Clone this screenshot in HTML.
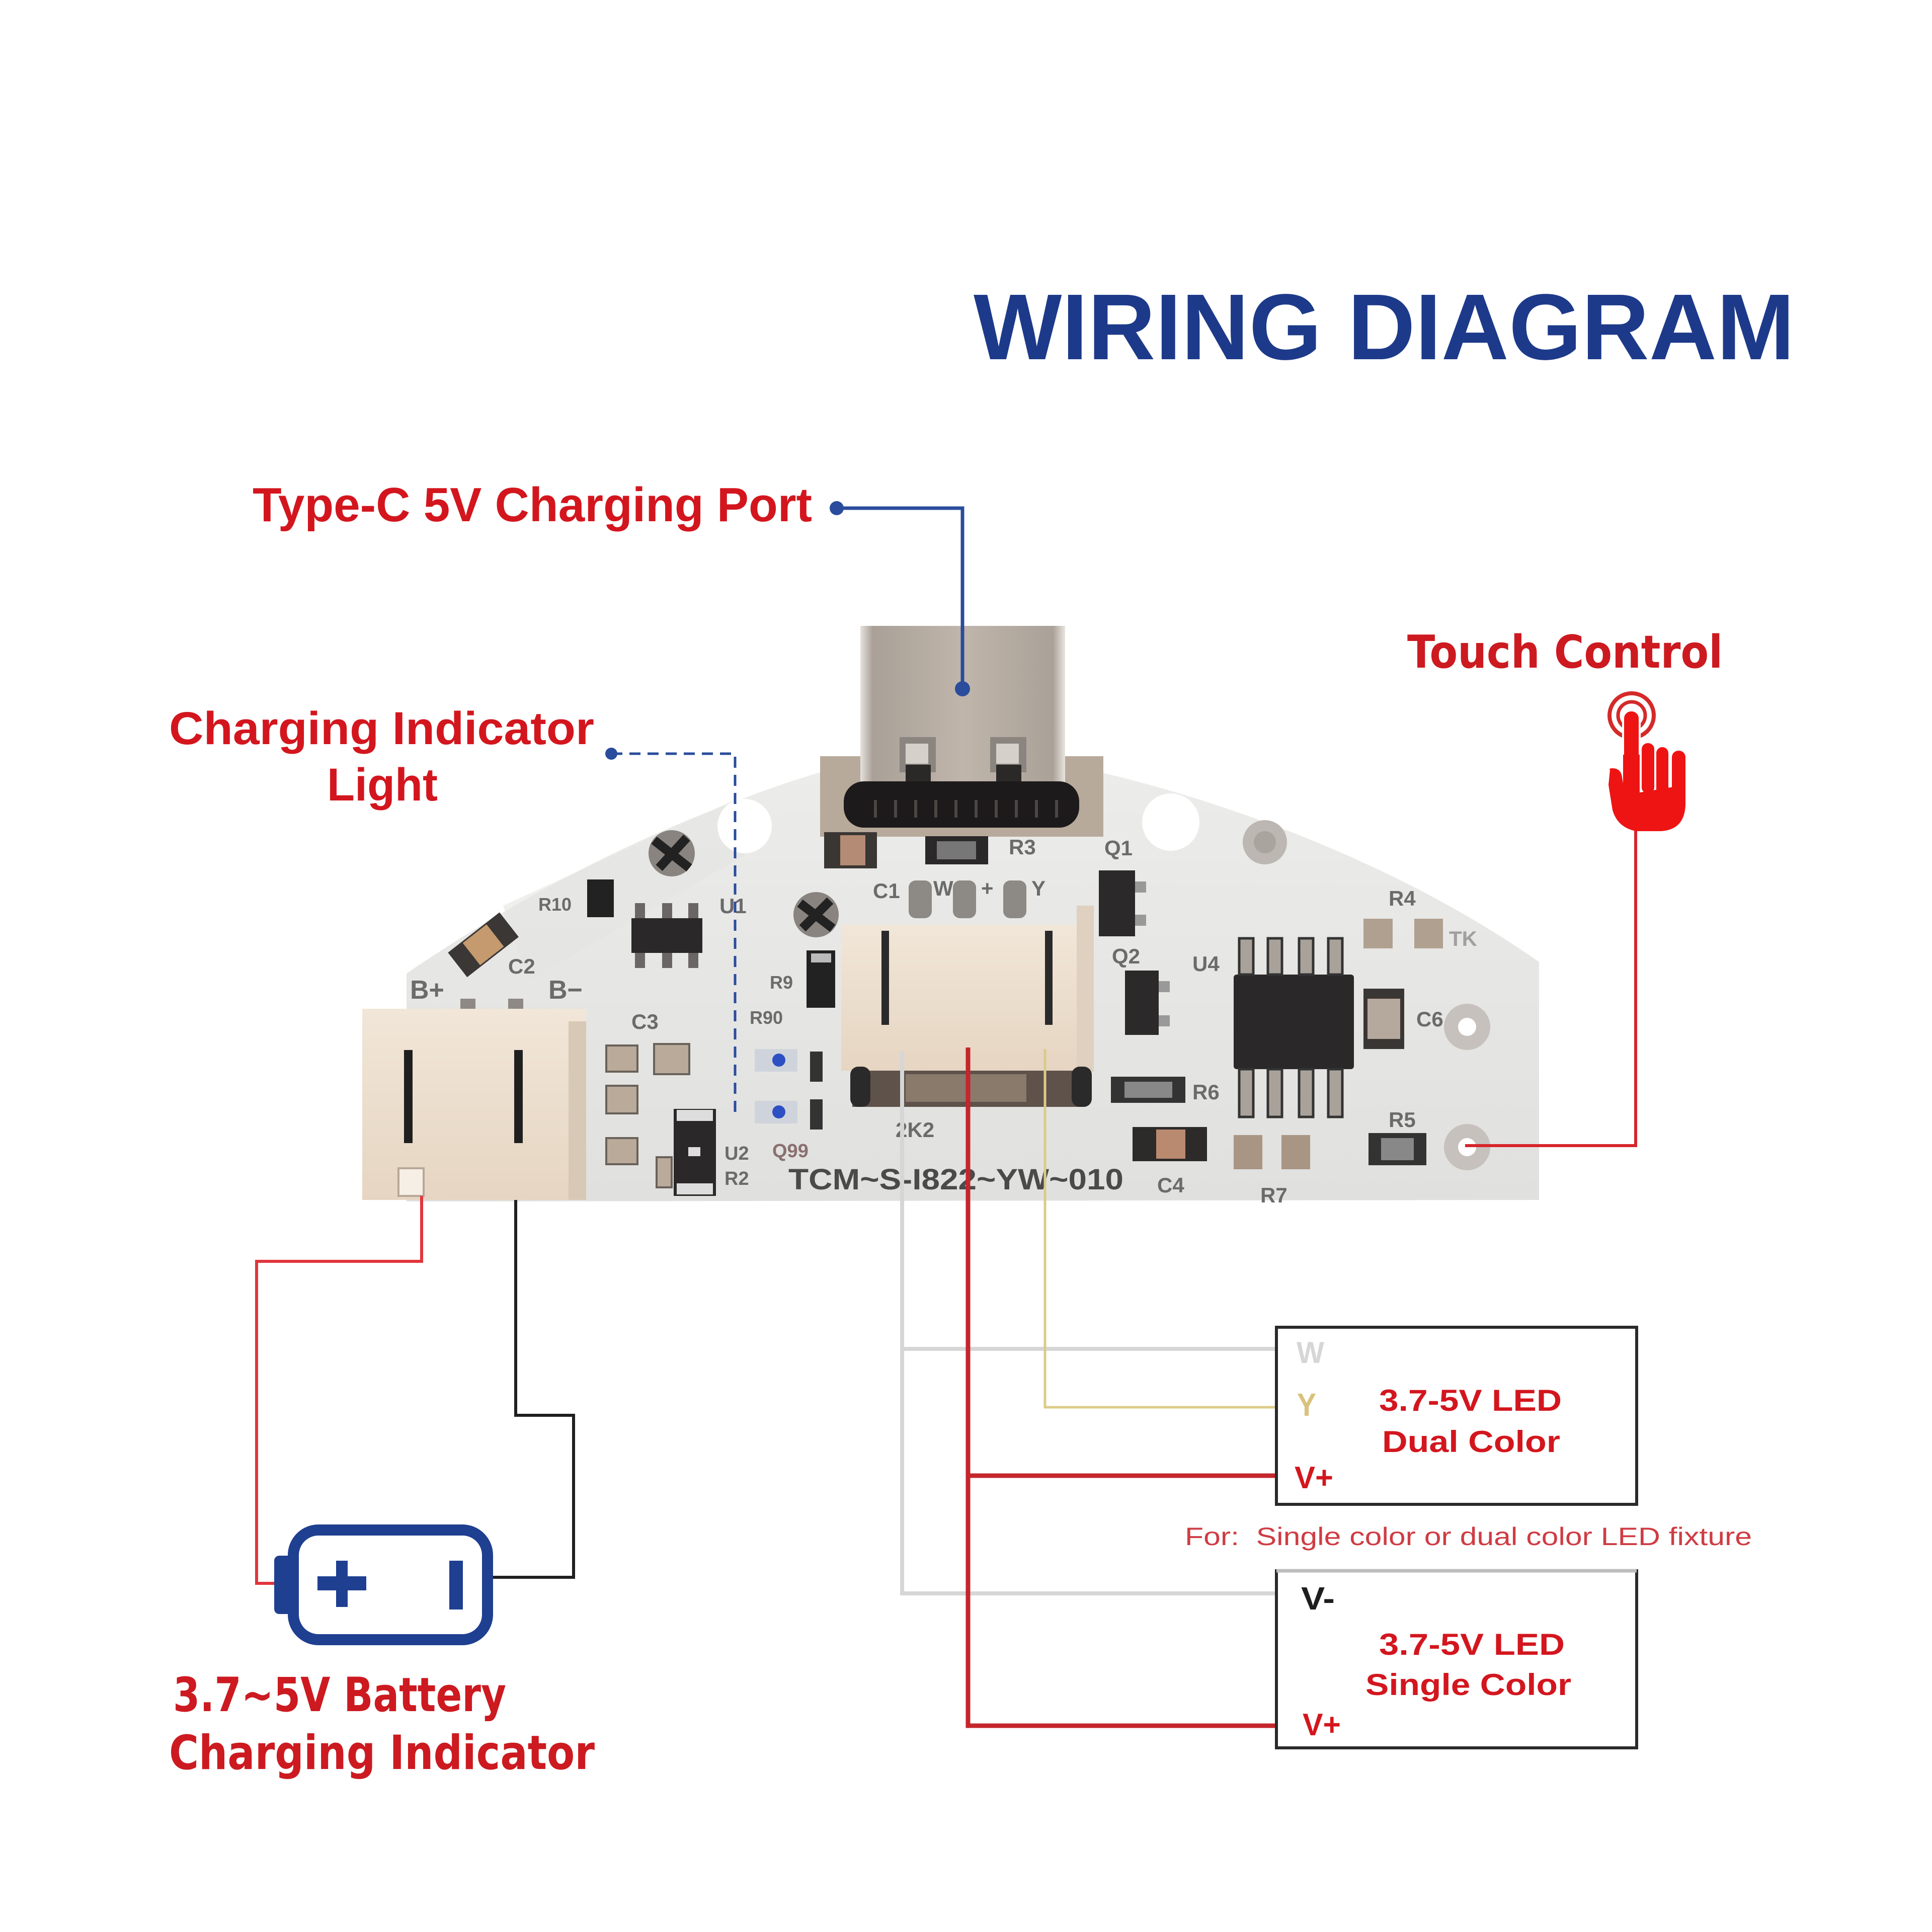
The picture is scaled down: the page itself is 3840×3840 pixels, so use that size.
<!DOCTYPE html>
<html><head><meta charset="utf-8"><style>html,body{margin:0;padding:0;background:#fff}svg{display:block}</style></head>
<body>
<svg width="3840" height="3840" viewBox="0 0 3840 3840" xmlns="http://www.w3.org/2000/svg">
<defs>
<linearGradient id="board" x1="0" y1="0" x2="0" y2="1">
<stop offset="0" stop-color="#ececea"/><stop offset="1" stop-color="#e0e0de"/>
</linearGradient>
<linearGradient id="shell" x1="0" y1="0" x2="1" y2="0">
<stop offset="0" stop-color="#e6e2dd"/><stop offset="0.06" stop-color="#a9a097"/><stop offset="0.5" stop-color="#bfb5ab"/><stop offset="0.94" stop-color="#aaa198"/><stop offset="1" stop-color="#e8e4df"/>
</linearGradient>
<linearGradient id="conn" x1="0" y1="0" x2="0" y2="1">
<stop offset="0" stop-color="#f1e6d8"/><stop offset="1" stop-color="#e6d5c2"/>
</linearGradient>
</defs>
<rect width="3840" height="3840" fill="#fff"/>

<!-- Title -->
<text x="1935" y="714" font-family="Liberation Sans, Arial, sans-serif" font-weight="bold" font-size="186" fill="#1d3a8a" textLength="1632" lengthAdjust="spacingAndGlyphs">WIRING DIAGRAM</text>

<!-- Labels -->
<g font-family="Liberation Sans, Arial, sans-serif" font-weight="bold" fill="#d3161e">
<text x="502" y="1036" font-size="96" textLength="1112" lengthAdjust="spacingAndGlyphs">Type-C 5V Charging Port</text>
<text x="336" y="1479" font-size="92" textLength="845" lengthAdjust="spacingAndGlyphs">Charging Indicator</text>
<text x="650" y="1591" font-size="92" textLength="220" lengthAdjust="spacingAndGlyphs">Light</text>
</g>
<g font-family="DejaVu Sans, Verdana, sans-serif" font-weight="bold" fill="#cc1a20">
<text x="2797" y="1327" font-size="90" textLength="627" lengthAdjust="spacingAndGlyphs">Touch Control</text>
<text x="344" y="3401" font-size="94" textLength="662" lengthAdjust="spacingAndGlyphs">3.7~5V Battery</text>
<text x="336" y="3516" font-size="94" textLength="846" lengthAdjust="spacingAndGlyphs">Charging Indicator</text>
</g>

<!-- PCB board -->
<path d="M808 2388 L808 1935 C 1020 1790, 1250 1670, 1470 1590 C 1560 1555, 1640 1530, 1715 1513 L2130 1522 C 2450 1590, 2800 1730, 3059 1912 L3059 2385 Z" fill="url(#board)"/>
<!-- faint watermark shade -->
<path d="M1000 1800 L1460 1590 L1480 1700 L1050 1950 Z" fill="#e4e4e2" opacity="0.6"/>

<!-- Type-C area -->
<rect x="1630" y="1503" width="563" height="160" fill="#b8aa9b"/>
<rect x="1710" y="1244" width="407" height="335" fill="url(#shell)"/>
<rect x="1788" y="1465" width="72" height="70" fill="#8b8580"/>
<rect x="1968" y="1465" width="72" height="70" fill="#8b8580"/>
<rect x="1800" y="1478" width="45" height="40" fill="#d6d0ca"/>
<rect x="1980" y="1478" width="45" height="40" fill="#d6d0ca"/>
<rect x="1800" y="1520" width="50" height="50" fill="#2b2927"/>
<rect x="1980" y="1520" width="50" height="50" fill="#2b2927"/>
<rect x="1677" y="1553" width="468" height="92" rx="40" fill="#1c1a1a"/>
<g stroke="#4a4644" stroke-width="6">
<line x1="1740" y1="1590" x2="1740" y2="1625"/><line x1="1780" y1="1590" x2="1780" y2="1625"/><line x1="1820" y1="1590" x2="1820" y2="1625"/><line x1="1860" y1="1590" x2="1860" y2="1625"/><line x1="1900" y1="1590" x2="1900" y2="1625"/><line x1="1940" y1="1590" x2="1940" y2="1625"/><line x1="1980" y1="1590" x2="1980" y2="1625"/><line x1="2020" y1="1590" x2="2020" y2="1625"/><line x1="2060" y1="1590" x2="2060" y2="1625"/><line x1="2100" y1="1590" x2="2100" y2="1625"/>
</g>

<!-- holes / pads -->
<circle cx="1480" cy="1642" r="54" fill="#fff"/>
<circle cx="2327" cy="1634" r="57" fill="#fff"/>
<circle cx="2514" cy="1674" r="44" fill="#bcb7b2"/>
<circle cx="2514" cy="1674" r="22" fill="#aaa49e"/>
<circle cx="2916" cy="2041" r="46" fill="#c6c1bc"/>
<circle cx="2916" cy="2041" r="18" fill="#fff"/>
<circle cx="2916" cy="2280" r="46" fill="#c6c1bc"/>
<circle cx="2916" cy="2280" r="18" fill="#fff"/>

<!-- round components -->
<circle cx="1335" cy="1696" r="46" fill="#8a8480"/>
<path d="M1300 1670 L1370 1725 M1310 1725 L1365 1665" stroke="#222" stroke-width="18"/>
<circle cx="1622" cy="1818" r="45" fill="#8a8480"/>
<path d="M1590 1795 L1655 1845 M1595 1845 L1650 1790" stroke="#222" stroke-width="18"/>

<!-- small parts under Type-C -->
<rect x="1638" y="1654" width="105" height="72" fill="#3a3634"/>
<rect x="1670" y="1660" width="50" height="60" fill="#b48b74"/>
<rect x="1839" y="1662" width="125" height="56" fill="#2a2828"/>
<rect x="1862" y="1672" width="78" height="36" fill="#777"/>
<rect x="1806" y="1750" width="46" height="75" rx="14" fill="#8d8985"/>
<rect x="1894" y="1750" width="46" height="75" rx="14" fill="#8d8985"/>
<rect x="1994" y="1750" width="46" height="75" rx="14" fill="#8d8985"/>

<!-- left side parts -->
<g transform="rotate(-38 960 1877)"><rect x="895" y="1847" width="130" height="62" fill="#3b3735"/><rect x="930" y="1850" width="60" height="56" fill="#c49a6e"/></g>
<rect x="1167" y="1748" width="53" height="75" fill="#222"/>
<rect x="1255" y="1825" width="141" height="69" fill="#2a2828"/>
<g fill="#6a6663"><rect x="1262" y="1795" width="20" height="30"/><rect x="1316" y="1795" width="20" height="30"/><rect x="1368" y="1795" width="20" height="30"/><rect x="1262" y="1894" width="20" height="30"/><rect x="1316" y="1894" width="20" height="30"/><rect x="1368" y="1894" width="20" height="30"/></g>
<g fill="#8e8985"><rect x="915" y="1985" width="30" height="65"/><rect x="1010" y="1985" width="30" height="65"/><rect x="1070" y="2010" width="30" height="45"/></g>
<g fill="#b9aa99" stroke="#6a625a" stroke-width="4">
<rect x="1205" y="2078" width="62" height="52"/><rect x="1300" y="2075" width="70" height="60"/><rect x="1205" y="2158" width="62" height="55"/><rect x="1205" y="2262" width="62" height="52"/><rect x="1305" y="2300" width="30" height="60"/>
</g>
<rect x="1339" y="2204" width="84" height="173" fill="#2a2828"/>
<rect x="1345" y="2206" width="72" height="22" fill="#ddd"/>
<rect x="1345" y="2352" width="72" height="22" fill="#ddd"/>
<rect x="1368" y="2280" width="24" height="18" fill="#ddd"/>
<rect x="1603" y="1889" width="57" height="114" fill="#222"/>
<rect x="1612" y="1895" width="40" height="18" fill="#bbb"/>
<rect x="1500" y="2085" width="85" height="45" fill="#cfd4dc"/>
<circle cx="1548" cy="2107" r="13" fill="#2d4fc4"/>
<rect x="1500" y="2188" width="85" height="45" fill="#cfd4dc"/>
<circle cx="1548" cy="2210" r="13" fill="#2d4fc4"/>
<rect x="1610" y="2090" width="25" height="60" fill="#333"/>
<rect x="1610" y="2185" width="25" height="60" fill="#333"/>

<!-- left connector -->
<rect x="720" y="2005" width="445" height="380" fill="url(#conn)"/>
<rect x="1130" y="2030" width="35" height="355" fill="#d8c8b6"/>
<rect x="803" y="2087" width="17" height="185" fill="#1f1f1f"/>
<rect x="1022" y="2087" width="17" height="185" fill="#1f1f1f"/>
<rect x="792" y="2322" width="50" height="55" fill="#f6efe6" stroke="#b8a898" stroke-width="4"/>

<!-- middle connector -->
<rect x="1672" y="1838" width="502" height="290" fill="url(#conn)"/>
<rect x="2140" y="1800" width="34" height="330" fill="#dfd0bf"/>
<rect x="1752" y="1850" width="15" height="187" fill="#2a2a2a"/>
<rect x="2077" y="1850" width="15" height="187" fill="#2a2a2a"/>
<rect x="1694" y="2128" width="460" height="72" fill="#5e524a"/>
<rect x="1800" y="2135" width="240" height="55" fill="#8a7a6c"/>
<rect x="1690" y="2120" width="40" height="80" rx="16" fill="#2b2a2a"/>
<rect x="2130" y="2120" width="40" height="80" rx="16" fill="#2b2a2a"/>

<!-- right side parts -->
<rect x="2184" y="1730" width="72" height="131" fill="#2b2929"/>
<rect x="2256" y="1752" width="22" height="22" fill="#999"/><rect x="2256" y="1818" width="22" height="22" fill="#999"/>
<rect x="2236" y="1929" width="67" height="128" fill="#2b2929"/>
<rect x="2303" y="1950" width="22" height="22" fill="#999"/><rect x="2303" y="2018" width="22" height="22" fill="#999"/>
<rect x="2452" y="1937" width="239" height="188" rx="6" fill="#2a2828"/>
<g fill="#a9a29b" stroke="#333" stroke-width="5">
<rect x="2463" y="1865" width="28" height="72"/><rect x="2520" y="1865" width="28" height="72"/><rect x="2582" y="1865" width="28" height="72"/><rect x="2640" y="1865" width="28" height="72"/>
<rect x="2463" y="2125" width="28" height="95"/><rect x="2520" y="2125" width="28" height="95"/><rect x="2582" y="2125" width="28" height="95"/><rect x="2640" y="2125" width="28" height="95"/>
</g>
<rect x="2251" y="2240" width="148" height="68" fill="#2d2b2a"/>
<rect x="2298" y="2245" width="58" height="58" fill="#b98a70"/>
<rect x="2208" y="2140" width="148" height="52" fill="#333"/>
<rect x="2235" y="2150" width="95" height="32" fill="#888"/>
<rect x="2452" y="2256" width="57" height="68" fill="#a89584"/>
<rect x="2547" y="2256" width="57" height="68" fill="#a89584"/>
<rect x="2720" y="2252" width="115" height="64" fill="#333"/>
<rect x="2745" y="2262" width="65" height="44" fill="#888"/>
<rect x="2710" y="1965" width="81" height="120" fill="#3a3634"/>
<rect x="2718" y="1985" width="65" height="80" fill="#b5a89c"/>
<rect x="2710" y="1826" width="58" height="59" fill="#b0a090"/>
<rect x="2811" y="1826" width="57" height="59" fill="#b0a090"/>

<!-- PCB silkscreen text -->
<g font-family="Liberation Sans, Arial, sans-serif" font-weight="bold" fill="#6b6b6b" font-size="42">
<text x="1567" y="2364" font-size="58" fill="#4a4a4a" textLength="666" lengthAdjust="spacingAndGlyphs">TCM~S-I822~YW~010</text>
<text x="2195" y="1700">Q1</text><text x="2210" y="1915">Q2</text><text x="2370" y="1930">U4</text>
<text x="2005" y="1698">R3</text><text x="1735" y="1785">C1</text><text x="1855" y="1780">W</text><text x="1950" y="1780">+</text><text x="2050" y="1780">Y</text>
<text x="2370" y="2185">R6</text><text x="2300" y="2370">C4</text><text x="2505" y="2390">R7</text><text x="2760" y="2240">R5</text>
<text x="2815" y="2040">C6</text><text x="2760" y="1800">R4</text><text x="2880" y="1880" fill="#a0a0a0">TK</text>
<text x="1780" y="2260">2K2</text>
<text x="815" y="1985" font-size="52">B+</text><text x="1090" y="1985" font-size="52">B−</text><text x="1010" y="1935">C2</text>
<text x="1255" y="2045">C3</text><text x="1070" y="1810" font-size="36">R10</text><text x="1430" y="1815">U1</text>
<text x="1530" y="1965" font-size="36">R9</text><text x="1490" y="2035" font-size="36">R90</text>
<text x="1440" y="2305" font-size="38">U2</text><text x="1440" y="2355" font-size="38">R2</text><text x="1535" y="2300" font-size="38" fill="#8a7070">Q99</text>
</g>

<!-- Wires to LED boxes -->
<g fill="none" stroke-linejoin="miter">
<path d="M1793 2090 V3167 H2537" stroke="#d6d6d6" stroke-width="8"/>
<path d="M1793 2681 H2537" stroke="#d6d6d6" stroke-width="8"/>
<path d="M2077 2085 V2797 H2537" stroke="#dccb88" stroke-width="5"/>
<path d="M1924 2082 V3430 H2537" stroke="#c4262c" stroke-width="9"/>
<path d="M1924 2933 H2537" stroke="#c4262c" stroke-width="9"/>
<!-- battery wires -->
<path d="M838 2377 V2507 H510 V3147 H550" stroke="#e2353b" stroke-width="6"/>
<path d="M1025 2385 V2813 H1140 V3135 H980" stroke="#1f1f1f" stroke-width="6"/>
<!-- touch wire -->
<path d="M3251 1645 V2277 H2912" stroke="#d6242a" stroke-width="6"/>
<!-- Type-C pointer -->
<path d="M1663 1010 H1913 V1369" stroke="#2a4c9c" stroke-width="7"/>
<!-- Indicator dashed pointer -->
<path d="M1215 1498 H1461 V2212" stroke="#2a4c9c" stroke-width="5" stroke-dasharray="22 14"/>
</g>
<circle cx="1663" cy="1010" r="14" fill="#2a4c9c"/>
<circle cx="1913" cy="1369" r="15" fill="#2a4c9c"/>
<circle cx="1215" cy="1498" r="12" fill="#2a4c9c"/>

<!-- LED boxes -->
<rect x="2537" y="2638" width="716" height="352" fill="none" stroke="#2a2a2a" stroke-width="6"/>
<rect x="2537" y="3122" width="716" height="352" fill="none" stroke="#2a2a2a" stroke-width="6"/>
<line x1="2537" y1="3122" x2="3253" y2="3122" stroke="#bdbdbd" stroke-width="7"/>

<g font-family="Liberation Sans, Arial, sans-serif" font-weight="bold">
<text x="2577" y="2709" font-size="60" fill="#d6d6d6" textLength="55" lengthAdjust="spacingAndGlyphs">W</text>
<text x="2578" y="2814" font-size="64" fill="#d8c27c" textLength="38" lengthAdjust="spacingAndGlyphs">Y</text>
<text x="2573" y="2958" font-size="62" fill="#d3161e" textLength="77" lengthAdjust="spacingAndGlyphs">V+</text>
<text x="2741" y="2804" font-size="60" fill="#d3161e" textLength="363" lengthAdjust="spacingAndGlyphs">3.7-5V LED</text>
<text x="2747" y="2886" font-size="60" fill="#d3161e" textLength="354" lengthAdjust="spacingAndGlyphs">Dual Color</text>
<text x="2355" y="3071" font-size="50" fill="#cf3c44" font-weight="normal" textLength="1127" lengthAdjust="spacingAndGlyphs" style="white-space:pre">For:  Single color or dual color LED fixture</text>
<text x="2586" y="3199" font-size="64" fill="#1e1e1e" textLength="67" lengthAdjust="spacingAndGlyphs">V-</text>
<text x="2741" y="3289" font-size="60" fill="#d3161e" textLength="369" lengthAdjust="spacingAndGlyphs">3.7-5V LED</text>
<text x="2714" y="3369" font-size="60" fill="#d3161e" textLength="409" lengthAdjust="spacingAndGlyphs">Single Color</text>
<text x="2589" y="3449" font-size="62" fill="#d3161e" textLength="76" lengthAdjust="spacingAndGlyphs">V+</text>
</g>

<!-- Battery icon -->
<rect x="583" y="3041" width="386" height="218" rx="50" fill="#fff" stroke="#1f3f90" stroke-width="22"/>
<rect x="545" y="3092" width="38" height="116" rx="10" fill="#1f3f90"/>
<rect x="631" y="3133" width="97" height="28" fill="#1f3f90"/>
<rect x="668" y="3102" width="23" height="92" fill="#1f3f90"/>
<rect x="893" y="3102" width="27" height="97" fill="#1f3f90"/>

<!-- Touch hand icon -->
<circle cx="3243" cy="1422" r="44" fill="none" stroke="#d42a2a" stroke-width="8"/>
<circle cx="3243" cy="1422" r="27" fill="none" stroke="#d42a2a" stroke-width="7"/>
<g fill="#ee1414">
<rect x="3226" y="1412" width="33" height="170" rx="16" stroke="#fff" stroke-width="4"/>
<rect x="3263" y="1477" width="25" height="100" rx="12"/>
<rect x="3292" y="1485" width="24" height="100" rx="12"/>
<rect x="3323" y="1492" width="27" height="100" rx="13"/>
<path d="M3200 1530 Q3197 1527 3205 1527 Q3222 1527 3224 1545 L3230 1580 L3350 1560 L3350 1600 Q3348 1650 3300 1652 L3252 1652 Q3215 1645 3205 1610 L3197 1560 Z"/>
<rect x="3226" y="1500" width="33" height="120"/>
</g>
</svg>
</body></html>
